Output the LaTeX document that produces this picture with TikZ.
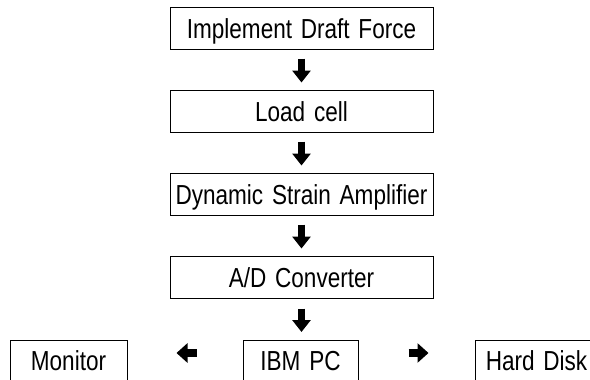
\documentclass[tikz,border=0pt]{standalone}
\usepackage{fontspec}
\setmainfont[FakeStretch=0.82,WordSpace=1.4]{Liberation Sans}
\usetikzlibrary{arrows.meta}
\tikzset{
  box/.style={draw, line width=1pt, inner sep=0pt, minimum height=42pt,
    text height=19.7pt, text depth=0pt, font=\fontsize{27.5}{30}\selectfont},
  widebox/.style={box, minimum width=263pt},
  vflow/.style={line width=7pt, -{Triangle[width=18pt,length=12pt]}},
  hflow/.style={line width=8.5pt, -{Triangle[width=19pt,length=11pt]}}
}
\begin{document}
\begin{tikzpicture}[x=1pt,y=-1pt]
\useasboundingbox (0,0) rectangle (590,380);
\clip (0,0) rectangle (590,380);
\node[widebox] (idf) at (301.5,28.5) {Implement Draft Force};
\node[widebox] (lc) at (301.5,111.5) {Load cell};
\node[widebox] (dsa) at (301.5,194.5) {Dynamic Strain Amplifier};
\node[widebox] (adc) at (301.5,277.5) {A/D Converter};
\node[box, minimum width=115pt] (pc) at (300.5,361) {IBM PC};
\node[box, minimum width=117pt] (mon) at (68.5,361) {Monitor};
\node[box, minimum width=123pt] (hd) at (536.5,361) {Hard Disk};
\draw[vflow, shorten <=8.5pt, shorten >=7.5pt] (idf.south) -- (lc.north);
\draw[vflow, shorten <=8.5pt, shorten >=7.5pt] (lc.south) -- (dsa.north);
\draw[vflow, shorten <=8.5pt, shorten >=7.5pt] (dsa.south) -- (adc.north);
\draw[vflow, shorten <=9.5pt, shorten >=7.5pt] (adc.south) -- (pc.north -| adc.south);
\draw[hflow, shorten <=46pt, shorten >=49pt] ([yshift=8pt]pc.west) -- ([yshift=8pt]mon.east);
\draw[hflow, shorten <=50pt, shorten >=46pt] ([yshift=8pt]pc.east) -- ([yshift=8pt]hd.west);
\end{tikzpicture}
\end{document}
